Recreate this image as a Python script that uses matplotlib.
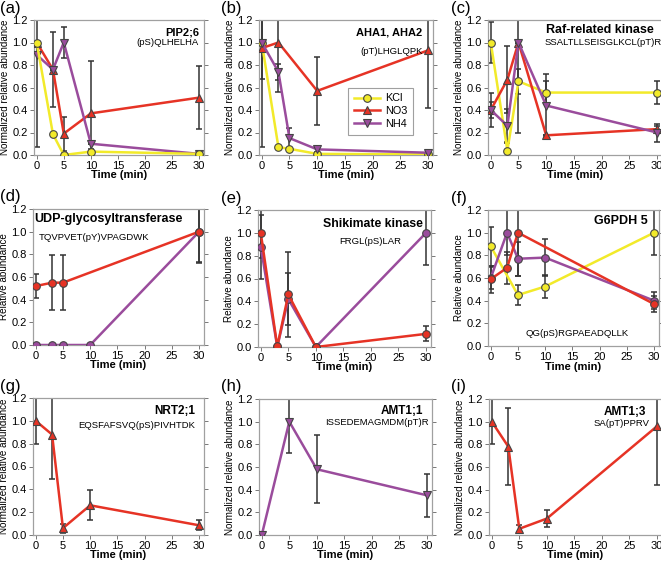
import numpy as np
import matplotlib
matplotlib.use("Agg")
import matplotlib.pyplot as plt

plt.rcParams['font.family'] = ['Liberation Sans', 'DejaVu Sans']

# colours / markers per treatment
YEL = "#f2ea2a"
RED = "#e63325"
PUR = "#9a4c9c"

# ---------------- data ----------------
# panel a: PIP2;6
a_t = [0, 3, 5, 10, 30]
a_kcl = [1.0, 0.185, 0.0, 0.03, 0.01]
a_kcl_e = [0.0, 0.0, 0.0, 0.02, 0.0]
a_no3 = [1.0, 0.76, 0.19, 0.37, 0.51]
a_no3_e = [0.93, 0.33, 0.15, 0.47, 0.28]
a_nh4 = [0.89, 0.76, 1.0, 0.10, 0.01]
a_nh4_e = [0.0, 0.0, 0.135, 0.0, 0.0]

# panel b: AHA1, AHA2
b_t = [0, 3, 5, 10, 30]
b_kcl = [1.0, 0.07, 0.055, 0.01, 0.005]
b_no3 = [0.95, 1.0, None, 0.57, 0.93]
b_no3_e = [0.88, 0.44, 0, 0.30, 0.51]
b_nh4 = [1.0, 0.74, 0.15, 0.05, 0.02]
b_nh4_e = [0.32, 0.07, 0.09, 0.02, 0.0]

# panel c: Raf-related kinase
c_t = [0, 3, 5, 10, 30]
c_kcl = [1.0, 0.04, 0.655, 0.555, 0.555]
c_kcl_e = [0.18, 0.08, 0.11, 0.10, 0.10]
c_no3 = [0.40, 0.67, 1.0, 0.175, 0.23]
c_no3_e = [0.07, 0.30, 0.80, 0.0, 0.03]
c_nh4 = [0.40, 0.26, 1.0, 0.44, 0.20]
c_nh4_e = [0.15, 0.15, 0.0, 0.28, 0.08]

# panel d: UDP-glycosyltransferase
d_t_no3 = [0, 3, 5, 30]
d_no3 = [0.52, 0.55, 0.55, 1.0]
d_no3_e = [0.105, 0.245, 0.245, 0.28]
d_t_nh4 = [0, 3, 5, 10, 30]
d_nh4 = [0.0, 0.0, 0.0, 0.0, 1.0]
d_nh4_e = [0, 0, 0, 0, 0.27]

# panel e: Shikimate kinase
e_t = [0, 3, 5, 10, 30]
e_nh4 = [0.88, 0.0, 0.42, 0.0, 1.0]
e_nh4_e = [0.28, 0, 0.23, 0, 0.28]
e_no3 = [1.0, 0.005, 0.46, 0.0, 0.115]
e_no3_e = [0.22, 0, 0.37, 0, 0.065]

# panel f: G6PDH 5
f_t_kcl = [0, 5, 10, 30]
f_kcl = [0.88, 0.45, 0.525, 1.0]
f_kcl_e = [0.17, 0.09, 0.105, 0.2]
f_t_no3 = [0, 3, 5, 30]
f_no3 = [0.59, 0.69, 1.0, 0.37]
f_no3_e = [0.12, 0.14, 0.38, 0.07]
f_t_nh4 = [0, 3, 5, 10, 30]
f_nh4 = [0.60, 1.0, 0.77, 0.78, 0.40]
f_nh4_e = [0.10, 0.2, 0.15, 0.16, 0.075]

# panel g: NRT2;1
g_t = [0, 3, 5, 10, 30]
g_no3 = [1.0, 0.88, 0.06, 0.26, 0.085]
g_no3_e = [0.2, 0.39, 0.04, 0.13, 0.045]

# panel h: AMT1;1
h_t = [0, 5, 10, 30]
h_nh4 = [0.0, 1.0, 0.58, 0.35]
h_nh4_e = [0, 0.28, 0.30, 0.19]

# panel i: AMT1;3
i_t = [0, 3, 5, 10, 30]
i_no3 = [1.0, 0.78, 0.055, 0.145, 0.96]
i_no3_e = [0.2, 0.34, 0.03, 0.075, 0.52]

W, H = 661, 563
fig = plt.figure(figsize=(W / 100, H / 100), dpi=100)


def series(ax, t, y, err, color, marker, label=None, ms=5.5):
    t = np.array(t, float)
    y = np.array([np.nan if v is None else v for v in y], float)
    ok = ~np.isnan(y)
    if err is not None:
        e = np.array(err, float)
        ax.errorbar(t[ok], y[ok], yerr=e[ok], fmt="none", ecolor="#333333",
                    elinewidth=1.1, capsize=2.5, capthick=1.1, zorder=2)
    ax.plot(t[ok], y[ok], color=color, lw=1.8, marker=marker, ms=ms,
            mfc=color, mec="#444444", mew=0.8, label=label, zorder=3)


def axes_px(x0, x1, ytop, ybot, ylabel, letter, letter_x):
    ax = fig.add_axes([x0 / W, 1 - ybot / H, (x1 - x0) / W, (ybot - ytop) / H])
    ax.set_xlim(-0.5, 30.9)
    ax.set_ylim(0, 1.2)
    ax.set_xticks([0, 5, 10, 15, 20, 25, 30])
    ax.set_yticks(np.arange(0, 1.21, 0.2))
    ax.set_yticklabels(["%.1f" % v for v in np.arange(0, 1.21, 0.2)])
    for s in ax.spines.values():
        s.set_color("#a0a0a0")
        s.set_linewidth(0.9)
    ax.tick_params(labelsize=8, length=3, width=0.7, color="#777777", pad=1.5)
    ax.tick_params(axis="y", right=True, which="both")
    ax.set_xlabel("Time (min)", fontsize=8, fontweight="bold")
    ax.set_ylabel(ylabel, fontsize=7.1)
    wpx, hpx = x1 - x0, ybot - ytop
    ax.xaxis.set_label_coords(0.5, -15.5 / hpx)
    ax.yaxis.set_label_coords(-24 / wpx, 0.5)
    fig.text(letter_x / W, 1 - (ytop - 12) / H, letter, fontsize=12,
             ha="left", va="center")
    return ax


def label(ax, text, x, y, size=6.8, bold=False, ha="right"):
    ax.text(x, y, text, transform=ax.transAxes, ha=ha, va="center",
            fontsize=size, fontweight="bold" if bold else "normal")


NRA = "Normalized relative abundance"
RA = "Relative abundance"

# row 1
ax = axes_px(34, 204, 20, 155, NRA, "(a)", 0)
series(ax, a_t, a_no3, a_no3_e, RED, "^")
series(ax, a_t, a_nh4, a_nh4_e, PUR, "v")
series(ax, a_t, a_kcl, a_kcl_e, YEL, "o")
label(ax, "PIP2;6", 0.97, 0.91, 8, True)
label(ax, "(pS)QLHELHA", 0.97, 0.83, 6.8)

ax = axes_px(259, 433, 20, 155, NRA, "(b)", 221)
series(ax, b_t, b_kcl, None, YEL, "o", "KCl")
series(ax, b_t, b_no3, b_no3_e, RED, "^", "NO3")
series(ax, b_t, b_nh4, b_nh4_e, PUR, "v", "NH4")
label(ax, "AHA1, AHA2", 0.94, 0.91, 8, True)
label(ax, "(pT)LHGLQPK", 0.94, 0.77, 6.8)
leg = ax.legend(loc="upper left", bbox_to_anchor=(0.51, 0.50), fontsize=7.8,
                frameon=True, fancybox=False, edgecolor="#888888",
                handlelength=2.4, borderpad=0.55, labelspacing=0.25,
                handletextpad=0.5, borderaxespad=0)
leg.get_frame().set_linewidth(0.8)

ax = axes_px(488, 662, 20, 155, NRA, "(c)", 451)
series(ax, c_t, c_kcl, c_kcl_e, YEL, "o")
series(ax, c_t, c_no3, c_no3_e, RED, "^")
series(ax, c_t, c_nh4, c_nh4_e, PUR, "v")
label(ax, "Raf-related kinase", 0.955, 0.925, 9, True)
label(ax, "SSALTLLSEISGLKCL(pT)R", 1.0, 0.83, 6.8)

# row 2
ax = axes_px(33, 204, 209, 345, RA, "(d)", 0)
series(ax, d_t_nh4, d_nh4, d_nh4_e, PUR, "o")
series(ax, d_t_no3, d_no3, d_no3_e, RED, "o")
label(ax, "UDP-glycosyltransferase", 0.01, 0.93, 9, True, "left")
label(ax, "TQVPVET(pY)VPAGDWK", 0.035, 0.79, 6.8, ha="left")

ax = axes_px(258, 431, 210, 347, RA, "(e)", 221)
series(ax, e_t, e_nh4, e_nh4_e, PUR, "o")
series(ax, e_t, e_no3, e_no3_e, RED, "o")
label(ax, "Shikimate kinase", 0.955, 0.9, 8.8, True)
label(ax, "FRGL(pS)LAR", 0.83, 0.77, 6.8)

ax = axes_px(488, 659, 210, 346, RA, "(f)", 451)
series(ax, f_t_kcl, f_kcl, f_kcl_e, YEL, "o")
series(ax, f_t_nh4, f_nh4, f_nh4_e, PUR, "o")
series(ax, f_t_no3, f_no3, f_no3_e, RED, "o")
label(ax, "G6PDH 5", 0.935, 0.92, 9, True)
label(ax, "QG(pS)RGPAEADQLLK", 0.52, 0.095, 6.8, ha="center")

# row 3
ax = axes_px(33, 204, 398, 535, NRA, "(g)", 0)
series(ax, g_t, g_no3, g_no3_e, RED, "^")
label(ax, "NRT2;1", 0.947, 0.905, 8.5, True)
label(ax, "EQSFAFSVQ(pS)PIVHTDK", 0.947, 0.8, 6.8)

ax = axes_px(259, 432, 399, 535, NRA, "(h)", 221)
series(ax, h_t, h_nh4, h_nh4_e, PUR, "v")
label(ax, "AMT1;1", 0.95, 0.91, 8.5, True)
label(ax, "ISSEDEMAGMDM(pT)R", 0.98, 0.83, 6.8)

ax = axes_px(489, 662, 399, 535, NRA, "(i)", 451)
series(ax, i_t, i_no3, i_no3_e, RED, "^")
label(ax, "AMT1;3", 0.907, 0.905, 8.5, True)
label(ax, "SA(pT)PPRV", 0.93, 0.82, 6.8)

fig.savefig("out.png", dpi=100)
